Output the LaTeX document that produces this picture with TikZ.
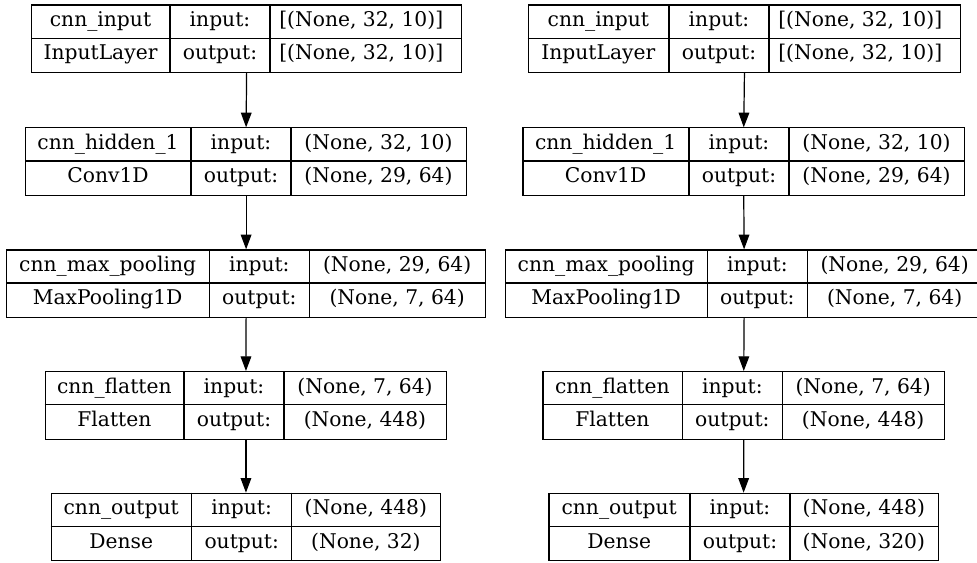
\documentclass[tikz,border=0pt]{standalone}
\usepackage{fontspec}
\setmainfont{DejaVu Serif}
\usetikzlibrary{arrows.meta}

% One layer table: name / class on the left, input:/output: in the middle,
% shapes on the right.
% #1 node name, #2 left edge, #3 first divider, #4 right edge, #5 top edge,
% #6 layer name, #7 layer class, #8 input shape, #9 output shape
\newcommand\layerbox[9]{%
  \node[layer, minimum width={(#4-#2)*0.75pt}, anchor=north west] (#1) at (#2,#5) {};
  \draw[rule] ({#3},{#5}) -- ({#3},{#5+67.5});
  \draw[rule] ({#3+100},{#5}) -- ({#3+100},{#5+67.5});
  \draw[rule] ({#2},{#5+33.75}) -- ({#4},{#5+33.75});
  \node[cell]      (#1-name)  at ({(#2+#3)/2},{#5+22}) {#6};
  \node[cell]      (#1-class) at ({(#2+#3)/2},{#5+55.5}) {#7};
  \node[cell]      (#1-inl)   at ({#3+50},{#5+22}) {input:};
  \node[cell]      (#1-outl)  at ({#3+50},{#5+55.5}) {output:};
  \node[shapecell] (#1-in)    at ({(#3+100+#4)/2},{#5+22}) {#8};
  \node[shapecell] (#1-out)   at ({(#3+100+#4)/2},{#5+55.5}) {#9};
}

\tikzset{
  layer/.style={draw, line width=0.9pt, inner sep=0pt, minimum height=67.5*0.75pt},
  rule/.style={line width=0.9pt},
  cell/.style={inner sep=0pt, anchor=base, font=\fontsize{15.2}{18}\selectfont},
  shapecell/.style={cell},
  flow/.style={line width=0.9pt, -{Triangle[length=11pt, width=8pt]}},
}

\begin{document}
\begin{tikzpicture}[x=0.75pt, y=-0.75pt]
  \useasboundingbox (0,0) rectangle (977,563);
  \clip (0,0) rectangle (977,563);
  \fill[white] (0,0) rectangle (977,563);

  % first model
  \begin{scope}[shapecell/.append style={xshift=-3.2pt}]
    \layerbox{a1}{31}{170}{461}{4.5}{cnn\_input}{InputLayer}{[(None, 32, 10)]}{[(None, 32, 10)]}
  \end{scope}
  \layerbox{a2}{25}{191}{466}{127.3}{cnn\_hidden\_1}{Conv1D}{(None, 32, 10)}{(None, 29, 64)}
  \layerbox{a3}{6}{209.3}{485}{249.3}{cnn\_max\_pooling}{MaxPooling1D}{(None, 29, 64)}{(None, 7, 64)}
  \layerbox{a4}{44.7}{184}{446}{371}{cnn\_flatten}{Flatten}{(None, 7, 64)}{(None, 448)}
  \layerbox{a5}{50.7}{191.7}{440}{492.7}{cnn\_output}{Dense}{(None, 448)}{(None, 32)}

  % second model
  \begin{scope}[shapecell/.append style={xshift=-3.2pt}]
    \layerbox{b1}{527.7}{669}{960}{4.5}{cnn\_input}{InputLayer}{[(None, 32, 10)]}{[(None, 32, 10)]}
  \end{scope}
  \layerbox{b2}{522.3}{689}{964}{127.3}{cnn\_hidden\_1}{Conv1D}{(None, 32, 10)}{(None, 29, 64)}
  \layerbox{b3}{505}{707.3}{982}{249.3}{cnn\_max\_pooling}{MaxPooling1D}{(None, 29, 64)}{(None, 7, 64)}
  \layerbox{b4}{542.3}{682.3}{944}{371}{cnn\_flatten}{Flatten}{(None, 7, 64)}{(None, 448)}
  \layerbox{b5}{548.3}{690}{937.7}{492.7}{cnn\_output}{Dense}{(None, 448)}{(None, 320)}

  \foreach \m in {a,b}{
    \draw[flow] (\m1.south) -- (\m2.north);
    \draw[flow] (\m2.south) -- (\m3.north);
    \draw[flow] (\m3.south) -- (\m4.north);
    \draw[flow] (\m4.south) -- (\m5.north);
  }
\end{tikzpicture}
\end{document}
